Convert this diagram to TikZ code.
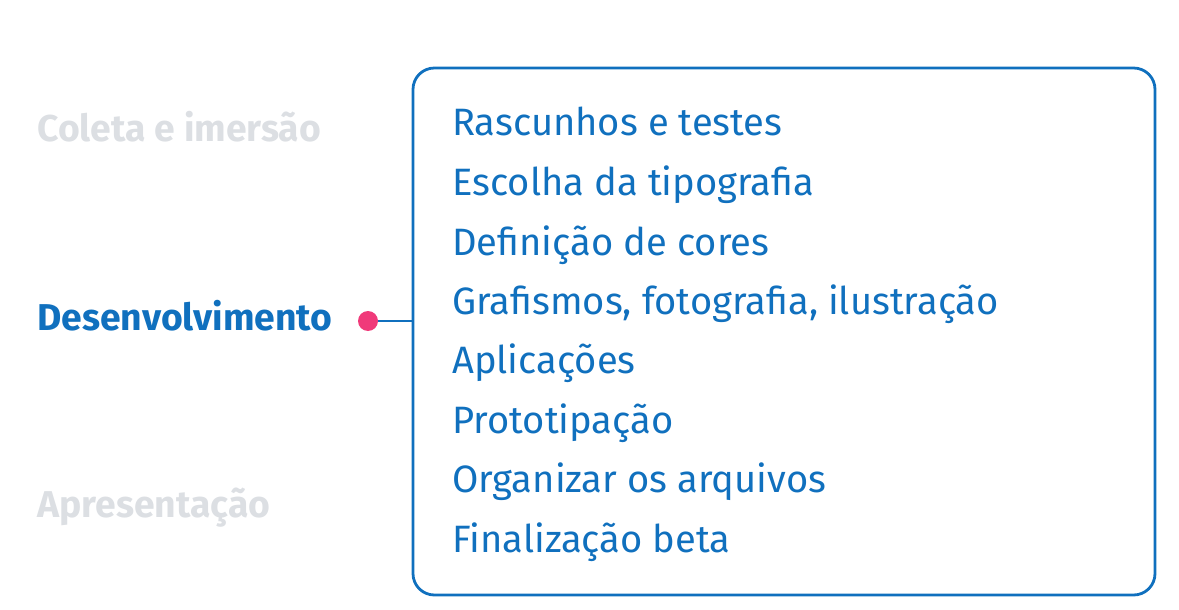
\documentclass[tikz,border=0pt]{standalone}
\usepackage{fontspec}
\setmainfont{Fira Sans}
\definecolor{azul}{RGB}{16,112,190}
\definecolor{cinza}{RGB}{220,223,227}
\definecolor{rosa}{RGB}{240,58,122}
\begin{document}
\begin{tikzpicture}[x=0.75pt,y=0.75pt,yscale=-1,xscale=1,
  etapa/.style={anchor=base west,inner sep=0pt,font=\fontsize{28}{30}\selectfont\bfseries},
  item/.style={anchor=base west,inner sep=0pt,text=azul,font=\fontsize{28.6}{30}\selectfont}]
\useasboundingbox (0,0) rectangle (1179,610);

%Shape: Rounded box
\draw [color=azul,line width=2.1pt,rounded corners=16pt] (413,68) rectangle (1155,595);
\coordinate (boxleft) at (413,321);

% Text Node
\node [etapa,text=cinza] (coleta) at (37,142) {Coleta e imersão};
\node [etapa,text=azul] (desenv) at (37,330) {Desenvolvimento};
\node [etapa,text=cinza] (apres) at (37,517) {Apresentação};

%Shape: Circle
\node [circle,fill=rosa,minimum size=15pt,inner sep=0pt] (ponto) at (368,321) {};
\draw [color=azul,line width=1.5pt] (ponto) -- (boxleft);

% Text Node
\node [item] (i1) at (452,136) {Rascunhos e testes};
\node [item] (i2) at (452,195.5) {Escolha da tipografia};
\node [item] (i3) at (452,255) {Definição de cores};
\node [item] (i4) at (452,314) {Grafismos, fotografia, ilustração};
\node [item] (i5) at (452,373.5) {Aplicações};
\node [item] (i6) at (452,433) {Prototipação};
\node [item] (i7) at (452,492.5) {Organizar os arquivos};
\node [item] (i8) at (452,552) {Finalização beta};

\end{tikzpicture}
\end{document}
